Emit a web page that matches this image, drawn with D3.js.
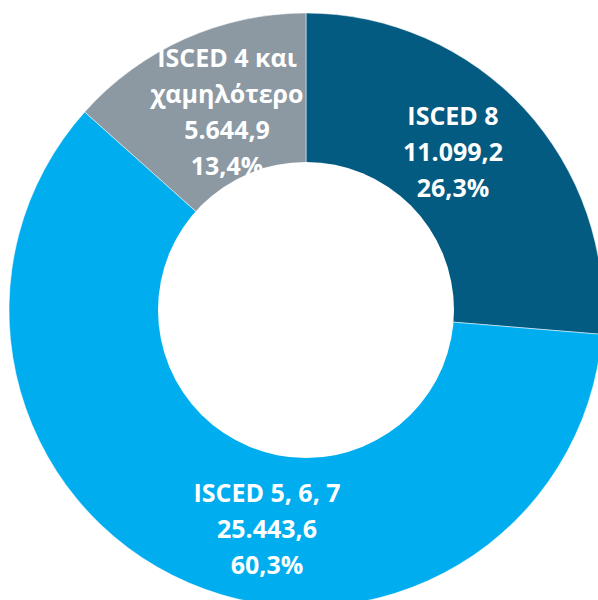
<!DOCTYPE html>
<html>
<head>
<meta charset="utf-8">
<script src="https://cdn.jsdelivr.net/npm/d3@7"></script>
<style>
  html, body { margin: 0; padding: 0; background: #fff; overflow: hidden; }
  svg { display: block; }
</style>
</head>
<body>
<svg id="chart" width="598" height="600"></svg>
<script>
// Distribution by education level (value, share)
const categories = ["ISCED 8", "ISCED 5, 6, 7", "ISCED 4 και χαμηλότερο"];
const values = [11099.2, 25443.6, 5644.9];
const labelLines = [
  ["ISCED 8"],
  ["ISCED 5, 6, 7"],
  ["ISCED 4 και", "χαμηλότερο"]
];
const colors = ["#045B81", "#00AEEF", "#8C99A3"];

// label anchor offsets from the donut centre (layout only)
const labelPos = [
  { x: 147, y: -185 },
  { x: -39, y: 192 },
  { x: -79, y: -243 }
];

const width = 598, height = 600;
const cx = 306, cy = 310;
const outerR = 297, innerR = 148;
const lineH = 36;

const svg = d3.select("#chart");
const g = svg.append("g").attr("transform", `translate(${cx},${cy})`);

const total = d3.sum(values);
const fmtNum = v => d3.format(",.1f")(v).replace(/,/g, "#").replace(".", ",").replace(/#/g, ".");
const fmtPct = v => (Math.round(v * 1000) / 10).toFixed(1).replace(".", ",") + "%";

const pie = d3.pie().sort(null).value(d => d.value);
const data = categories.map((c, i) => ({ name: c, value: values[i], i }));
const arcs = pie(data);

const arc = d3.arc().innerRadius(0).outerRadius(outerR);

g.selectAll("path.slice")
  .data(arcs)
  .join("path")
  .attr("class", "slice")
  .attr("d", arc)
  .attr("fill", d => colors[d.data.i])
  .attr("stroke", "#ffffff")
  .attr("stroke-width", 0.5);

// data labels
arcs.forEach(d => {
  const i = d.data.i;
  const lines = labelLines[i].concat([fmtNum(d.data.value), fmtPct(d.data.value / total)]);
  const t = g.append("text")
    .attr("text-anchor", "middle")
    .attr("font-family", "'Open Sans', 'Noto Sans', sans-serif")
    .attr("font-weight", 700)
    .attr("font-size", 25)
    .attr("fill", "#ffffff");
  lines.forEach((ln, k) => {
    t.append("tspan")
      .attr("x", labelPos[i].x)
      .attr("y", labelPos[i].y + k * lineH)
      .text(ln);
  });
});

// donut hole drawn on top
g.append("circle")
  .attr("r", innerR)
  .attr("fill", "#ffffff");
</script>
</body>
</html>
